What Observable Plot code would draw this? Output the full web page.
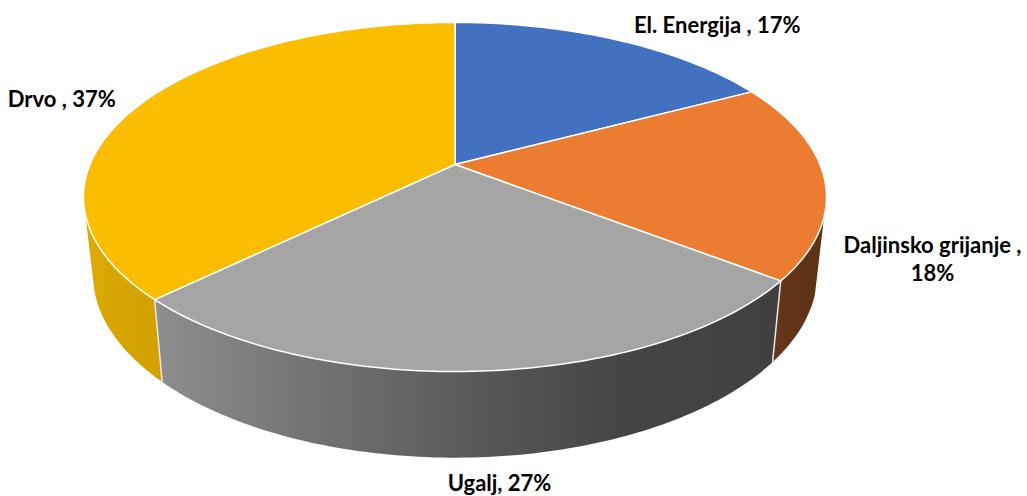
<!DOCTYPE html>
<html>
<head>
<meta charset="utf-8">
<script src="https://cdn.jsdelivr.net/npm/d3@7"></script>
<script src="https://cdn.jsdelivr.net/npm/@observablehq/plot@0.6"></script>
<style>
html,body{margin:0;padding:0;background:#fff;}
svg{display:block;}
</style>
</head>
<body>
<div id="chart"></div>
<script>
const categories = ["El. Energija", "Daljinsko grijanje", "Ugalj", "Drvo"];
const values = [17.1, 18.1, 27, 37];
const labelTexts = ["El. Energija , 17%", "Daljinsko grijanje ,\n18%", "Ugalj, 27%", "Drvo , 37%"];
const topColors = ["#4371c2", "#eb7c31", "#a5a5a5", "#fbbd00"];

// Perspective projection of the pie's unit disc
const k = 0.186, RX = 365, RY = 168.5;
const total = d3.sum(values);
function project(deg, r, plane) {
  const a = deg * Math.PI / 180;
  const u = r * Math.sin(a), v = -r * Math.cos(a), w = 1 - k * v;
  if (plane === "top") return {x: RX * u / w, y: RY * v / w};
  return {x: 0.975 * RX * u / w, y: 75 + 1.054 * RY * v / w};
}
function arc(a0, a1, plane) {
  const n = Math.max(2, Math.ceil(Math.abs(a1 - a0)));
  return d3.range(n + 1).map(i => project(a0 + (a1 - a0) * i / n, 1, plane));
}
const cum = [0];
values.forEach(v => cum.push(cum[cum.length - 1] + v));
const deg = cum.map(c => c / total * 360);

const tops = categories.flatMap((name, i) => {
  const c = {x: 0, y: 0};
  return [c, ...arc(deg[i], deg[i + 1], "top"), c].map(p => ({...p, name}));
});
function wall(a0, a1) {
  const pts = [...arc(a0, a1, "top"), ...arc(a1, a0, "bottom")];
  pts.push(pts[0]);
  return pts;
}
const wallStart = 107, wallEnd = 254;
const walls = [
  {fill: "url(#wallOrange)", pts: wall(wallStart, deg[2])},
  {fill: "url(#wallGray)", pts: wall(deg[2], deg[3])},
  {fill: "url(#wallYellow)", pts: wall(deg[3], wallEnd)}
];
const seams = [deg[2], deg[3]].map(a => [project(a, 1, "top"), project(a, 1, "bottom")]);

const NS = "http://www.w3.org/2000/svg";
function gradientDefs() {
  const defs = document.createElementNS(NS, "defs");
  const grads = {
    wallGray: [[0, "#8e8e8e"], [0.25, "#737373"], [0.5, "#5a5a5a"], [0.72, "#464646"], [1, "#404040"]],
    wallOrange: [[0, "#66371a"], [1, "#5c3214"]],
    wallYellow: [[0, "#dcaa02"], [1, "#d2a000"]]
  };
  for (const [id, stops] of Object.entries(grads)) {
    const g = document.createElementNS(NS, "linearGradient");
    g.setAttribute("id", id);
    for (const [o, c] of stops) {
      const s = document.createElementNS(NS, "stop");
      s.setAttribute("offset", o);
      s.setAttribute("stop-color", c);
      g.appendChild(s);
    }
    defs.appendChild(g);
  }
  return defs;
}

const labelMark = (i, dx, dy) => {
  const mid = (deg[i] + deg[i + 1]) / 2;
  const p = project(mid, 1, "top");
  return Plot.text([{...p, t: labelTexts[i]}], {
    x: "x", y: "y", text: "t", dx, dy,
    fontFamily: "Lato, 'Open Sans', sans-serif", fontWeight: 700, fontSize: 22,
    fill: "#000", lineHeight: 1.27, textAnchor: "middle", lineAnchor: "middle"
  });
};

const chart = Plot.plot({
  width: 1027, height: 496,
  margin: 0,
  x: {domain: [-454.5, 572.5], range: [0, 1027], axis: null},
  y: {domain: [-164, 332], range: [0, 496], axis: null},
  color: {domain: categories, range: topColors},
  style: {background: "#fff"},
  marks: [
    gradientDefs,
    ...walls.map(w => Plot.line(w.pts, {x: "x", y: "y", fill: w.fill, stroke: "none"})),
    ...seams.map(s => Plot.line(s, {x: "x", y: "y", stroke: "#e8e8e8", strokeWidth: 1.5})),
    Plot.line(tops, {x: "x", y: "y", z: "name", fill: "name", stroke: "#fff", strokeWidth: 1.5, strokeLinejoin: "round"}),
    labelMark(0, 100, -16),
    labelMark(1, 108, 79),
    labelMark(2, 19, 111),
    labelMark(3, -79.5, -5)
  ]
});
document.getElementById("chart").appendChild(chart);
</script>
</body>
</html>
